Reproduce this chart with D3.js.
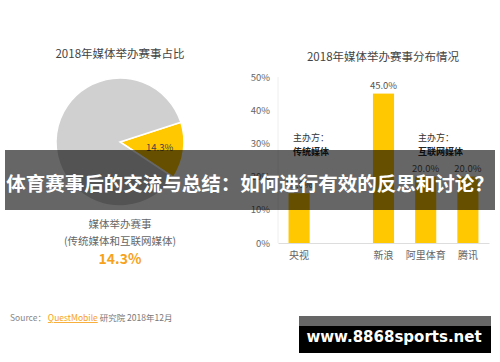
<!DOCTYPE html>
<html>
<head>
<meta charset="utf-8">
<script src="https://cdn.jsdelivr.net/npm/d3@7/dist/d3.min.js"></script>
<style>
  body { margin: 0; background: #fff; }
  svg { display: block; font-family: "Noto Sans CJK SC", "Noto Sans", sans-serif; }
</style>
</head>
<body>
<div id="chart"></div>
<script>
var W = 500, H = 362;

// pie data
var pieLabels = ['媒体举办赛事', '其他'];
var pieValues = [14.3, 85.7];
var pieColors = ['#FFC800', '#D0D0D0'];

// bar data
var categories = ['央视', 'gap', '新浪', '阿里体育', '腾讯'];
var catLabels = ['央视', '', '新浪', '阿里体育', '腾讯'];
var barValues = [15, null, 45, 20, 20];
var yTicks = [0, 10, 20, 30, 40, 50];

var svg = d3.select('#chart').append('svg').attr('width', W).attr('height', H);

// ---- left: pie ----
svg.append('text')
    .attr('x', 120).attr('y', 58)
    .attr('text-anchor', 'middle')
    .style('font-size', '11.5px').style('fill', '#444')
    .text('2018年媒体举办赛事占比');

var pie = d3.pie().sort(null)
    .startAngle(72 * Math.PI / 180)
    .endAngle(72 * Math.PI / 180 + 2 * Math.PI);
var arc = d3.arc().innerRadius(0).outerRadius(64);
var labelArc = d3.arc().innerRadius(40).outerRadius(40);

var pg = svg.append('g').attr('transform', 'translate(120,142)');
var slices = pie(pieValues);
pg.selectAll('path').data(slices).enter().append('path')
    .attr('d', arc)
    .attr('fill', function (d, i) { return pieColors[i]; })
    .attr('stroke', '#fff').attr('stroke-width', 1.5);

pg.append('text')
    .attr('transform', 'translate(' + labelArc.centroid(slices[0]) + ')')
    .attr('text-anchor', 'middle').attr('dy', '0.35em')
    .style('font-size', '9.5px').style('fill', '#444')
    .text(d3.format('.1f')(pieValues[0]) + '%');

svg.append('text')
    .attr('x', 120).attr('y', 228)
    .attr('text-anchor', 'middle')
    .style('font-size', '10.5px').style('fill', '#666')
    .text(pieLabels[0]);
svg.append('text')
    .attr('x', 120).attr('y', 245)
    .attr('text-anchor', 'middle')
    .style('font-size', '10.5px').style('fill', '#666')
    .text('(传统媒体和互联网媒体)');
svg.append('text')
    .attr('x', 120).attr('y', 264)
    .attr('text-anchor', 'middle')
    .style('font-size', '14px').style('font-weight', 'bold').style('fill', '#F7A21B')
    .text(d3.format('.1f')(pieValues[0]) + '%');

// ---- right: bars ----
svg.append('text')
    .attr('x', 383).attr('y', 61)
    .attr('text-anchor', 'middle')
    .style('font-size', '11.5px').style('fill', '#444')
    .text('2018年媒体举办赛事分布情况');

var x = d3.scaleBand().domain(categories).range([278, 489])
    .paddingInner(0.5).paddingOuter(0.25);
var y = d3.scaleLinear().domain([0, 50]).range([243, 77]);

svg.append('line')
    .attr('x1', 278).attr('x2', 278).attr('y1', 77).attr('y2', 243)
    .attr('stroke', '#eee');

var ya = svg.append('g').attr('transform', 'translate(278,0)')
    .call(d3.axisLeft(y).tickValues(yTicks).tickSize(0).tickPadding(8)
        .tickFormat(function (d) { return d + '%'; }));
ya.select('.domain').remove();
ya.selectAll('text').style('font-size', '9.5px').style('fill', '#666')
    .style('font-family', '"Noto Sans CJK SC", "Noto Sans", sans-serif');

var xa = svg.append('g').attr('transform', 'translate(0,243)')
    .call(d3.axisBottom(x).tickSize(0).tickPadding(9)
        .tickFormat(function (d, i) { return catLabels[categories.indexOf(d)]; }));
xa.select('.domain').attr('stroke', '#ddd');
xa.selectAll('text').style('font-size', '10px').style('fill', '#666')
    .style('font-family', '"Noto Sans CJK SC", "Noto Sans", sans-serif');

var barData = categories.map(function (c, i) { return { c: c, v: barValues[i] }; })
    .filter(function (d) { return d.v !== null; });

svg.selectAll('rect.bar').data(barData).enter().append('rect')
    .attr('class', 'bar')
    .attr('x', function (d) { return x(d.c); })
    .attr('width', x.bandwidth())
    .attr('y', function (d) { return y(d.v); })
    .attr('height', function (d) { return y(0) - y(d.v); })
    .attr('fill', '#FFC800');

svg.selectAll('text.val').data(barData).enter().append('text')
    .attr('class', 'val')
    .attr('x', function (d) { return x(d.c) + x.bandwidth() / 2; })
    .attr('y', function (d) { return y(d.v) - 5; })
    .attr('text-anchor', 'middle')
    .style('font-size', '9.5px').style('fill', '#555')
    .text(function (d) { return d3.format('.1f')(d.v) + '%'; });

var notes = [
    { x: 293, a: '主办方：', b: '传统媒体' },
    { x: 418, a: '主办方：', b: '互联网媒体' }
];
notes.forEach(function (n) {
    svg.append('text').attr('x', n.x).attr('y', 141)
        .style('font-size', '9px').style('fill', '#333').text(n.a);
    svg.append('text').attr('x', n.x).attr('y', 155)
        .style('font-size', '9px').style('fill', '#222').style('font-weight', 'bold').text(n.b);
});

// ---- source ----
var src = svg.append('text').attr('x', 10).attr('y', 321).style('font-size', '8.5px');
src.append('tspan').style('fill', '#888').text('Source：  ');
src.append('tspan').style('fill', '#F7A21B')
    .style('text-decoration', 'underline').style('text-decoration-color', '#f0a0b0')
    .text('QuestMobile');
src.append('tspan').style('fill', '#777').text(' 研究院 2018年12月');

// ---- overlay banner ----
svg.append('rect').attr('x', 5).attr('y', 150).attr('width', 490).attr('height', 60)
    .attr('fill', 'rgba(0,0,0,0.6)');
svg.append('text')
    .attr('x', 250).attr('y', 184).attr('dy', '0.35em')
    .attr('text-anchor', 'middle')
    .style('font-size', '19.5px').style('font-weight', 'bold').style('fill', '#fff')
    .text('体育赛事后的交流与总结：如何进行有效的反思和讨论？');

// ---- watermark ----
svg.append('rect').attr('x', 299).attr('y', 316).attr('width', 192).attr('height', 10).attr('fill', '#666');
svg.append('rect').attr('x', 299).attr('y', 326).attr('width', 192).attr('height', 27).attr('fill', '#000');
svg.append('text')
    .attr('x', 394).attr('y', 337).attr('dy', '0.35em')
    .attr('text-anchor', 'middle')
    .style('font-family', '"DejaVu Sans", sans-serif')
    .style('font-size', '15px').style('font-weight', 'bold').style('fill', '#fff')
    .text('www.8868sports.net');
</script>
</body>
</html>
